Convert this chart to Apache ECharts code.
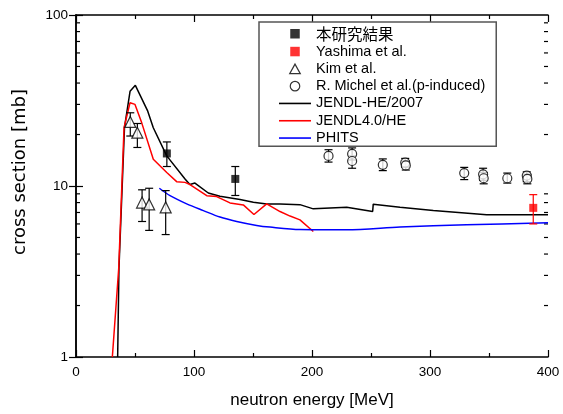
<!DOCTYPE html>
<html><head><meta charset="utf-8">
<script src="https://cdn.jsdelivr.net/npm/echarts@6/dist/echarts.min.js"></script>
<style>html,body{margin:0;padding:0;background:#fff}#c{width:563px;height:414px}</style>
</head><body><div id="c"></div>
<script>
// ---- data ----
const ourX = [77, 135];
const ourY = [15.5, 11.0];
const ourLo = [13.0, 8.8];
const ourHi = [18.1, 13.0];

const yashimaX = [387.5];
const yashimaY = [7.45];
const yashimaLo = [6.0];
const yashimaHi = [8.9];

const kimX = [46, 52, 56, 62, 76];
const kimY = [23.7, 20.5, 8.0, 7.8, 7.5];
const kimLo = [19.6, 16.8, 6.2, 5.5, 5.2];
const kimHi = [26.8, 23.2, 9.5, 9.7, 9.4];

const michelX = [214, 234, 234, 260, 279, 279.5, 329, 345, 345.5, 365.5, 382, 382.5];
const michelY = [15.0, 15.4, 14.0, 13.3, 13.7, 13.2, 11.9, 11.7, 11.1, 11.1, 11.5, 11.0];
const michelLo = [13.8, 14.2, 12.7, 12.3, 12.9, 12.4, 10.9, 10.8, 10.3, 10.4, 10.6, 10.3];
const michelHi = [16.3, 16.7, 15.0, 14.4, 14.5, 14.0, 12.85, 12.7, 12.0, 11.9, 12.1, 11.7];

const heX = [35.3, 36.4, 41.1, 45.8, 50.3, 60.8, 65.5, 76.9, 92.4, 96.5, 100.8, 112.1, 122, 139, 150.3, 161.6, 172.9, 189.8, 201.1, 229.4, 251.4, 251.9, 274.6, 302.8, 348, 400];
const heY = [1.0, 3.29, 22.0, 35.8, 38.8, 27.4, 21.9, 15.0, 11.0, 10.2, 10.4, 9.1, 8.7, 8.33, 8.04, 7.86, 7.86, 7.78, 7.35, 7.52, 7.09, 7.83, 7.52, 7.18, 6.78, 6.78];

const j4X = [30.8, 36.2, 40.7, 45.8, 50, 55.7, 65.5, 76.9, 85.3, 92.4, 96.6, 110.8, 119.2, 130.5, 141.8, 150.8, 161.6, 172.9, 181.4, 189.8, 201.1];
const j4Y = [1.0, 3.29, 21.9, 30.7, 30.0, 23.4, 14.35, 12.0, 10.6, 10.5, 10.2, 8.78, 8.67, 7.96, 7.75, 6.81, 7.86, 7.09, 6.67, 6.34, 5.42];

const phX = [70.6, 79.7, 93.8, 107.9, 122, 136.2, 153.1, 164.4, 189.8, 229.4, 274.6, 331, 400];
const phY = [9.7, 8.78, 7.86, 7.18, 6.58, 6.2, 5.88, 5.75, 5.57, 5.55, 5.75, 5.93, 6.09];

const xTicks = [0, 100, 200, 300, 400];
const yMinorTicks = [2, 3, 4, 5, 6, 7, 8, 9, 20, 30, 40, 50, 60, 70, 80, 90];

const names = ['本研究結果', 'Yashima et al.', 'Kim et al.', 'R. Michel et al.(p-induced)', 'JENDL-HE/2007', 'JENDL4.0/HE', 'PHITS'];

// ---- helpers ----
const zip = (a, b) => a.map((v, i) => [v, b[i]]);
function errSeries(xs, lo, hi, color) {
  return {
    type: 'custom', silent: true, z: 3,
    data: xs.map((x, i) => [x, lo[i], hi[i]]),
    encode: { x: 0, y: [1, 2] },
    renderItem: (params, api) => {
      const t = api.coord([api.value(0), api.value(2)]);
      const b = api.coord([api.value(0), api.value(1)]);
      const w = 4;
      const style = { stroke: color, lineWidth: 1.2 };
      return { type: 'group', children: [
        { type: 'line', shape: { x1: t[0], y1: t[1], x2: b[0], y2: b[1] }, style },
        { type: 'line', shape: { x1: t[0] - w, y1: t[1], x2: t[0] + w, y2: t[1] }, style },
        { type: 'line', shape: { x1: b[0] - w, y1: b[1], x2: b[0] + w, y2: b[1] }, style }
      ] };
    }
  };
}

const FONT = 'Liberation Sans, Noto Sans CJK JP, sans-serif';
const LINE_ICON = 'path://M0,0H32V1.6H0Z';
const SQ_ICON = 'path://M0,0H10V10H0Z';
const TRI_ICON = 'path://M5,0L10,9H0Z';
const CIR_ICON = 'path://M5,0A5,5,0,1,1,5,10A5,5,0,1,1,5,0Z';
const hollow = { color: '#fff', borderColor: '#000', borderWidth: 1.2 };
const chart = echarts.init(document.getElementById('c'), null, { renderer: 'canvas' });
const axisLine = { show: true, lineStyle: { color: '#000', width: 1.5 } };

chart.setOption({
  animation: false,
  backgroundColor: '#fff',
  grid: { left: 76, right: 15, top: 15, bottom: 55 },
  xAxis: [{
    type: 'value', min: 0, max: 400, interval: 100, position: 'bottom',
    axisLine, splitLine: { show: false },
    axisTick: { inside: true, length: 7, lineStyle: { color: '#000', width: 1.2 } },
    minorTick: { show: true, splitNumber: 2, length: 4, lineStyle: { color: '#000', width: 1.2 } },
    axisLabel: { color: '#000', fontSize: 13.5, fontFamily: FONT, margin: 9,
      formatter: v => xTicks.includes(v) ? String(v) : '' },
    name: 'neutron energy [MeV]', nameLocation: 'middle', nameGap: 35,
    nameTextStyle: { color: '#000', fontSize: 17, fontFamily: FONT }
  }, {
    type: 'value', min: 0, max: 400, interval: 100, position: 'top',
    axisLine, splitLine: { show: false }, axisLabel: { show: false },
    axisTick: { inside: true, length: 7, lineStyle: { color: '#000', width: 1.2 } },
    minorTick: { show: true, splitNumber: 2, length: 4, lineStyle: { color: '#000', width: 1.2 } }
  }],
  yAxis: [{
    type: 'log', logBase: 10, min: 1, max: 100, position: 'left',
    axisLine, splitLine: { show: false },
    axisTick: { inside: true, length: 7, lineStyle: { color: '#000', width: 1.2 } },
    axisLabel: { color: '#000', fontSize: 13.5, fontFamily: FONT, margin: 8 }
  }, {
    type: 'log', logBase: 10, min: 1, max: 100, position: 'right',
    axisLine, splitLine: { show: false }, axisLabel: { show: false },
    axisTick: { inside: true, length: 7, lineStyle: { color: '#000', width: 1.2 } }
  }],
  graphic: [{
    type: 'text', x: 20, y: 172, rotation: Math.PI / 2,
    style: { text: 'cross section [mb]', fill: '#000', fontSize: 18,
      fontFamily: 'DejaVu Sans, sans-serif', align: 'center', verticalAlign: 'middle' }
  }],
  legend: {
    orient: 'vertical', left: 259, top: 22,
    padding: [4, 11, 1, 20], itemGap: 2.8, itemWidth: 32, itemHeight: 9.5,
    symbolKeepAspect: true,
    borderColor: '#555', borderWidth: 1.5, backgroundColor: '#fff',
    textStyle: { color: '#000', fontSize: 14.5, fontFamily: FONT, lineHeight: 14,
      rich: { cjk: { fontSize: 15.5, fontFamily: 'Noto Sans CJK JP', color: '#000', lineHeight: 14 } } },
    formatter: n => n === '本研究結果' ? '{cjk|' + n + '}' : n,
    data: [
      { name: names[0], icon: SQ_ICON, itemStyle: { color: '#000', borderWidth: 0 } },
      { name: names[1], icon: SQ_ICON, itemStyle: { color: '#ff0000', borderWidth: 0 } },
      { name: names[2], icon: TRI_ICON, itemStyle: hollow },
      { name: names[3], icon: CIR_ICON, itemStyle: hollow },
      { name: names[4], icon: LINE_ICON, itemStyle: { color: '#000', borderWidth: 0 } },
      { name: names[5], icon: LINE_ICON, itemStyle: { color: '#ff0000', borderWidth: 0 } },
      { name: names[6], icon: LINE_ICON, itemStyle: { color: '#0000ff', borderWidth: 0 } }
    ]
  },
  series: [
    { type: 'custom', silent: true, z: 1,
      data: yMinorTicks.map(v => [0, v]),
      renderItem: (params, api) => {
        const v = api.value(1);
        const l = api.coord([0, v]);
        const r = api.coord([400, v]);
        const style = { stroke: '#000', lineWidth: 1.2 };
        return { type: 'group', children: [
          { type: 'line', shape: { x1: l[0], y1: l[1], x2: l[0] + 4, y2: l[1] }, style },
          { type: 'line', shape: { x1: r[0], y1: r[1], x2: r[0] - 4, y2: r[1] }, style }
        ] };
      } },
    { name: names[4], type: 'line', data: zip(heX, heY), symbol: 'none', z: 2,
      lineStyle: { color: '#000', width: 1.5 }, itemStyle: { color: '#000' } },
    { name: names[5], type: 'line', data: zip(j4X, j4Y), symbol: 'none', z: 2,
      lineStyle: { color: '#ff0000', width: 1.5 }, itemStyle: { color: '#ff0000' } },
    { name: names[6], type: 'line', data: zip(phX, phY), symbol: 'none', smooth: 0.3, z: 2,
      lineStyle: { color: '#0000ff', width: 1.5 }, itemStyle: { color: '#0000ff' } },
    errSeries(ourX, ourLo, ourHi, '#000'),
    errSeries(yashimaX, yashimaLo, yashimaHi, '#ff0000'),
    errSeries(kimX, kimLo, kimHi, '#000'),
    errSeries(michelX, michelLo, michelHi, '#000'),
    { name: names[0], type: 'scatter', data: zip(ourX, ourY), symbol: 'rect', symbolSize: 8, z: 4,
      itemStyle: { color: '#000' } },
    { name: names[1], type: 'scatter', data: zip(yashimaX, yashimaY), symbol: 'rect', symbolSize: 8, z: 4,
      itemStyle: { color: '#ff0000' } },
    { name: names[2], type: 'scatter', data: zip(kimX, kimY), symbol: 'triangle', symbolSize: 11, z: 4,
      itemStyle: hollow },
    { name: names[3], type: 'scatter', data: zip(michelX, michelY), symbol: 'circle', symbolSize: 9, z: 4,
      itemStyle: hollow }
  ]
});
</script></body></html>
